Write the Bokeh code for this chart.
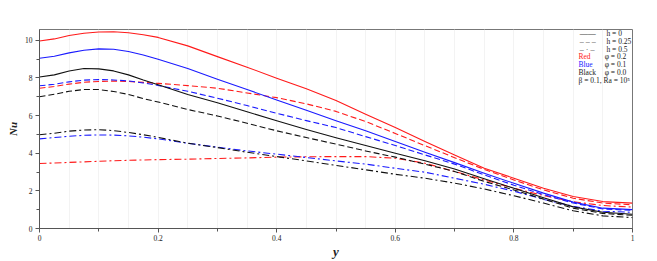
import numpy as np
from bokeh.plotting import figure
from bokeh.models import FixedTicker, Label, Range1d
from bokeh.embed import file_html
from bokeh.resources import INLINE

# ---- data ----
y_pos = [0.0, 0.025, 0.05, 0.075, 0.1, 0.125, 0.15, 0.175, 0.2, 0.25, 0.3,
         0.35, 0.4, 0.45, 0.5, 0.55, 0.6, 0.65, 0.7, 0.75, 0.8, 0.85, 0.9, 0.95, 1.0]

red_h0 = [9.96, 10.07, 10.25, 10.37, 10.44, 10.45, 10.4, 10.29, 10.15, 9.7, 9.13,
          8.57, 7.98, 7.42, 6.8, 6.07, 5.36, 4.62, 3.91, 3.2, 2.67, 2.14, 1.7, 1.43, 1.35]
red_h025 = [7.45, 7.54, 7.67, 7.77, 7.81, 7.83, 7.81, 7.76, 7.71, 7.59, 7.45,
            7.2, 6.95, 6.62, 6.22, 5.68, 5.05, 4.4, 3.76, 3.14, 2.58, 2.05, 1.61, 1.35, 1.26]
red_h05 = [3.45, 3.48, 3.51, 3.54, 3.57, 3.6, 3.62, 3.64, 3.66, 3.68, 3.72,
           3.75, 3.79, 3.81, 3.82, 3.82, 3.73, 3.47, 3.03, 2.58, 2.14, 1.75, 1.42, 1.22, 1.14]

blue_h0 = [9.04, 9.15, 9.33, 9.47, 9.54, 9.52, 9.4, 9.22, 8.99, 8.5, 7.93,
           7.38, 6.83, 6.28, 5.72, 5.19, 4.62, 4.05, 3.5, 2.94, 2.4, 1.88, 1.4, 1.08, 1.0]
blue_h025 = [7.58, 7.66, 7.79, 7.88, 7.91, 7.89, 7.84, 7.73, 7.6, 7.29, 6.92,
             6.53, 6.12, 5.73, 5.36, 4.88, 4.41, 3.91, 3.42, 2.85, 2.3, 1.8, 1.35, 1.04, 0.96]
blue_h05 = [4.76, 4.83, 4.9, 4.95, 4.97, 4.96, 4.92, 4.85, 4.76, 4.53, 4.32,
            4.12, 3.95, 3.77, 3.59, 3.42, 3.2, 2.99, 2.67, 2.35, 1.98, 1.55, 1.18, 0.92, 0.86]

black_h0 = [8.05, 8.16, 8.37, 8.5, 8.48, 8.37, 8.16, 7.89, 7.64, 7.12, 6.68,
            6.2, 5.72, 5.26, 4.82, 4.41, 4.0, 3.6, 3.16, 2.64, 2.14, 1.63, 1.15, 0.86, 0.76]
black_h025 = [7.0, 7.13, 7.29, 7.38, 7.38, 7.28, 7.12, 6.9, 6.72, 6.32, 5.98,
              5.59, 5.19, 4.83, 4.48, 4.12, 3.79, 3.42, 3.03, 2.5, 2.05, 1.56, 1.08, 0.8, 0.7]
black_h05 = [4.98, 5.06, 5.17, 5.23, 5.25, 5.2, 5.1, 4.98, 4.84, 4.53, 4.3,
             4.05, 3.82, 3.59, 3.35, 3.12, 2.88, 2.67, 2.41, 2.1, 1.74, 1.35, 0.94, 0.67, 0.58]

x_ticks = [0, 0.2, 0.4, 0.6, 0.8, 1]
x_tick_labels = ["0", "0.2", "0.4", "0.6", "0.8", "1"]
x_minor = [0.1, 0.3, 0.5, 0.7, 0.9]
y_ticks = [0, 2, 4, 6, 8, 10]
y_minor = [1, 3, 5, 7, 9]

h_samples = ["\u2014\u2014", "\u2013 \u2013 \u2013", "\u2013 \u00b7 \u2013"]
h_labels = ["h = 0", "h = 0.25", "h = 0.5"]
color_names = ["Red", "Blue", "Black"]
phi_labels = ["\u03c6 = 0.2", "\u03c6 = 0.1", "\u03c6 = 0.0"]
param_label = "\u03b2 = 0.1,  Ra = 10\u2075"

# ---- style ----
SERIF = "Liberation Serif"
RED, BLUE, BLACK = "#ff1a1a", "#1a1aff", "#111111"
TXT = "#222222"
DASHES = ["solid", "6 3", "7 3 2 3"]

p = figure(frame_width=593, frame_height=199,
           x_range=Range1d(0, 1), y_range=Range1d(0, 10.57),
           output_backend="svg", toolbar_location=None,
           min_border_left=39, min_border_right=17,
           min_border_top=29, min_border_bottom=28)
p.background_fill_color = "white"
p.border_fill_color = "white"
p.outline_line_color = "#777777"
p.outline_line_width = 1

# faint vertical grid
p.xgrid.ticker = FixedTicker(ticks=list(np.round(np.arange(0.05, 1.0, 0.05), 2)))
p.xgrid.grid_line_color = "#f3f3f3"
p.xgrid.grid_line_width = 1
p.ygrid.grid_line_color = None

series = [
    (red_h0, RED, 0), (red_h025, RED, 1), (red_h05, RED, 2),
    (blue_h0, BLUE, 0), (blue_h025, BLUE, 1), (blue_h05, BLUE, 2),
    (black_h0, BLACK, 0), (black_h025, BLACK, 1), (black_h05, BLACK, 2),
]
for vals, col, d in series:
    p.line(y_pos, vals, line_color=col, line_width=1.1, line_dash=DASHES[d],
           line_join="round")

# axes
for ax in (p.xaxis[0], p.yaxis[0]):
    ax.axis_line_color = "#555555"
    ax.major_tick_line_color = "#555555"
    ax.minor_tick_line_color = "#555555"
    ax.major_tick_in = 0
    ax.major_tick_out = 4
    ax.minor_tick_in = 0
    ax.minor_tick_out = 3
    ax.major_label_text_font = SERIF
    ax.major_label_text_font_size = "7.5px"
    ax.major_label_text_color = TXT
    ax.axis_label_text_font = SERIF
    ax.axis_label_text_font_style = "bold italic"
    ax.axis_label_text_color = TXT

p.xaxis.ticker = FixedTicker(ticks=x_ticks, minor_ticks=x_minor)
p.xaxis.major_label_overrides = {t: l for t, l in zip(x_ticks, x_tick_labels)}
p.xaxis.axis_label = "y"
p.xaxis.axis_label_text_font_size = "13px"
p.xaxis.major_label_standoff = 2
p.xaxis.axis_label_standoff = 0

p.yaxis.ticker = FixedTicker(ticks=y_ticks, minor_ticks=y_minor)
p.yaxis.axis_label = "Nu"
p.yaxis.axis_label_text_font_size = "11px"
p.yaxis.major_label_standoff = 3
p.yaxis.axis_label_standoff = 3

# key (drawn as text rows in the top-right corner)
def put(x, y, text, color=TXT, style="normal", size="7.5px"):
    p.add_layout(Label(x=x, y=y, text=text, text_color=color, text_font=SERIF,
                       text_font_size=size, text_font_style=style,
                       text_baseline="middle"))

h_rows = [10.36, 9.93, 9.52]
for i in range(3):
    put(0.911, h_rows[i], h_samples[i], color="#444444", size="8px")
    put(0.956, h_rows[i], h_labels[i])

row_y = [9.11, 8.71, 8.30]
key_cols = [RED, BLUE, TXT]
for i in range(3):
    put(0.909, row_y[i], color_names[i], color=key_cols[i])
    put(0.953, row_y[i], phi_labels[i])
put(0.909, 7.88, param_label)

open("out.html", "w").write(file_html(p, INLINE))
